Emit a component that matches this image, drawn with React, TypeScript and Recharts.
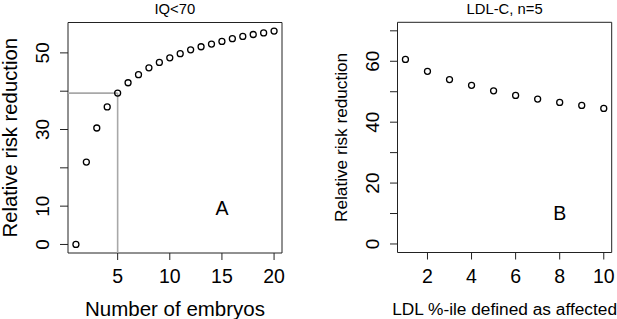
import React from 'react'
import { ScatterChart, Scatter, XAxis, YAxis, ReferenceArea, ReferenceLine, ReferenceDot } from 'recharts'

// panel A: IQ<70
const embryoCounts = [1, 2, 3, 4, 5, 6, 7, 8, 9, 10, 11, 12, 13, 14, 15, 16, 17, 18, 19, 20]
const iqReduction = [0, 21.5, 30.4, 35.9, 39.5, 42.2, 44.3, 46.1, 47.5, 48.7, 49.8, 50.8, 51.6, 52.3, 53.0, 53.7, 54.3, 54.8, 55.2, 55.7]
const iqXTicks = [5, 10, 15, 20]
const iqYTicks = [0, 10, 20, 30, 40, 50]
const iqYLabels = [0, 10, 30, 50]
const highlightN = 5
const highlightValue = 39.5

// panel B: LDL-C, n=5
const ldlPercentiles = [1, 2, 3, 4, 5, 6, 7, 8, 9, 10]
const ldlReduction = [60.6, 56.7, 54.0, 52.1, 50.3, 48.8, 47.6, 46.5, 45.5, 44.5]
const ldlXTicks = [2, 4, 6, 8, 10]
const ldlYTicks = [0, 10, 20, 30, 40, 50, 60, 70]
const ldlYLabels = [0, 20, 40, 60]

const FONT = '"Liberation Sans", Arial, Helvetica, sans-serif'
const INK = '#222'

// R style: pad the data range by 4% on each side
const pad = (lo: number, hi: number): [number, number] => {
  const d = (hi - lo) * 0.04
  return [lo - d, hi + d]
}

const iqData = embryoCounts.map((n, i) => ({ x: n, y: iqReduction[i] }))
const ldlData = ldlPercentiles.map((p, i) => ({ x: p, y: ldlReduction[i] }))

const iqX = pad(1, 20)
const iqY = pad(0, 55.7)
const ldlX = pad(1, 10)
const ldlY = pad(0, 70)

const OpenCircle = (props: any) => (
  <circle cx={props.cx} cy={props.cy} r={3} fill="none" stroke="#000" strokeWidth={1.3} />
)

const XTick = ({ x, y, payload, size }: any) => (
  <text x={x} y={y + 21.3} textAnchor="middle" fontSize={size} fontFamily={FONT} fill="#000">
    {payload.value}
  </text>
)

const YTick = ({ x, y, payload, size, shift, show }: any) => {
  if (!show.includes(payload.value)) return <g />
  return (
    <text
      transform={`translate(${x - shift},${y}) rotate(-90)`}
      textAnchor="middle"
      fontSize={size}
      fontFamily={FONT}
      fill="#000"
    >
      {payload.value}
    </text>
  )
}

const YTitle = ({ viewBox, value, bx, size }: any) => {
  const cy = viewBox ? viewBox.y + viewBox.height / 2 : 137.6
  return (
    <text transform={`translate(${bx},${cy}) rotate(-90)`} textAnchor="middle" fontSize={size} fontFamily={FONT} fill="#000">
      {value}
    </text>
  )
}

export default function App() {
  return (
    <div style={{ position: 'absolute', left: 0, top: 0, width: 617, height: 319, display: 'flex', background: '#fff' }}>
      <ScatterChart width={308} height={319} margin={{ top: 22.5, right: 26, bottom: 0, left: 0 }}>
        <XAxis
          type="number"
          dataKey="x"
          domain={iqX}
          allowDataOverflow
          ticks={iqXTicks}
          interval={0}
          height={66}
          axisLine={false}
          tickSize={7}
          tickLine={{ stroke: INK }}
          tick={<XTick size={19.5} />}
          label={{ value: 'Number of embryos', position: 'insideBottom', offset: 2.7, fontSize: 20.5, fontFamily: FONT, fill: '#000' }}
        />
        <YAxis
          type="number"
          dataKey="y"
          domain={iqY}
          allowDataOverflow
          ticks={iqYTicks}
          interval={0}
          width={68}
          axisLine={false}
          tickSize={8}
          tickLine={{ stroke: INK }}
          tick={<YTick size={19} shift={9.5} show={iqYLabels} />}
          label={<YTitle value="Relative risk reduction" bx={16.8} size={20.3} />}
        />
        <ReferenceArea x1={iqX[0]} x2={iqX[1]} y1={iqY[0]} y2={iqY[1]} fill="none" stroke={INK} strokeWidth={1} />
        <ReferenceLine segment={[{ x: iqX[0], y: highlightValue }, { x: highlightN, y: highlightValue }]} stroke="#a8a8a8" strokeWidth={1.6} />
        <ReferenceLine segment={[{ x: highlightN, y: iqY[0] }, { x: highlightN, y: highlightValue }]} stroke="#a8a8a8" strokeWidth={1.6} />
        <ReferenceDot x={15} y={9.5} r={2} fill="none" stroke="none" label={{ value: 'A', position: 'center', fontSize: 19.5, fontFamily: FONT, fill: '#000' }} />
        <Scatter data={iqData} shape={OpenCircle} isAnimationActive={false} />
        <text x={174.8} y={13.6} textAnchor="middle" fontSize={14.8} fontFamily={FONT} fill="#000">IQ&lt;70</text>
      </ScatterChart>
      <ScatterChart width={309} height={319} margin={{ top: 22.3, right: 5.3, bottom: 0, left: 0 }}>
        <XAxis
          type="number"
          dataKey="x"
          domain={ldlX}
          allowDataOverflow
          ticks={ldlXTicks}
          interval={0}
          height={66.5}
          axisLine={false}
          tickSize={7}
          tickLine={{ stroke: INK }}
          tick={<XTick size={19.5} />}
          label={{ value: 'LDL %-ile defined as affected', position: 'insideBottom', offset: 4, fontSize: 17.3, fontFamily: FONT, fill: '#000' }}
        />
        <YAxis
          type="number"
          dataKey="y"
          domain={ldlY}
          allowDataOverflow
          ticks={ldlYTicks}
          interval={0}
          width={89.5}
          axisLine={false}
          tickSize={7.5}
          tickLine={{ stroke: INK }}
          tick={<YTick size={19} shift={9.3} show={ldlYLabels} />}
          label={<YTitle value="Relative risk reduction" bx={39} size={17.2} />}
        />
        <ReferenceArea x1={ldlX[0]} x2={ldlX[1]} y1={ldlY[0]} y2={ldlY[1]} fill="none" stroke={INK} strokeWidth={1} />
        <ReferenceDot x={8} y={10.3} r={2} fill="none" stroke="none" label={{ value: 'B', position: 'center', fontSize: 19.5, fontFamily: FONT, fill: '#000' }} />
        <Scatter data={ldlData} shape={OpenCircle} isAnimationActive={false} />
        <text x={196.6} y={13.6} textAnchor="middle" fontSize={14.8} fontFamily={FONT} fill="#000">LDL-C, n=5</text>
      </ScatterChart>
    </div>
  )
}
